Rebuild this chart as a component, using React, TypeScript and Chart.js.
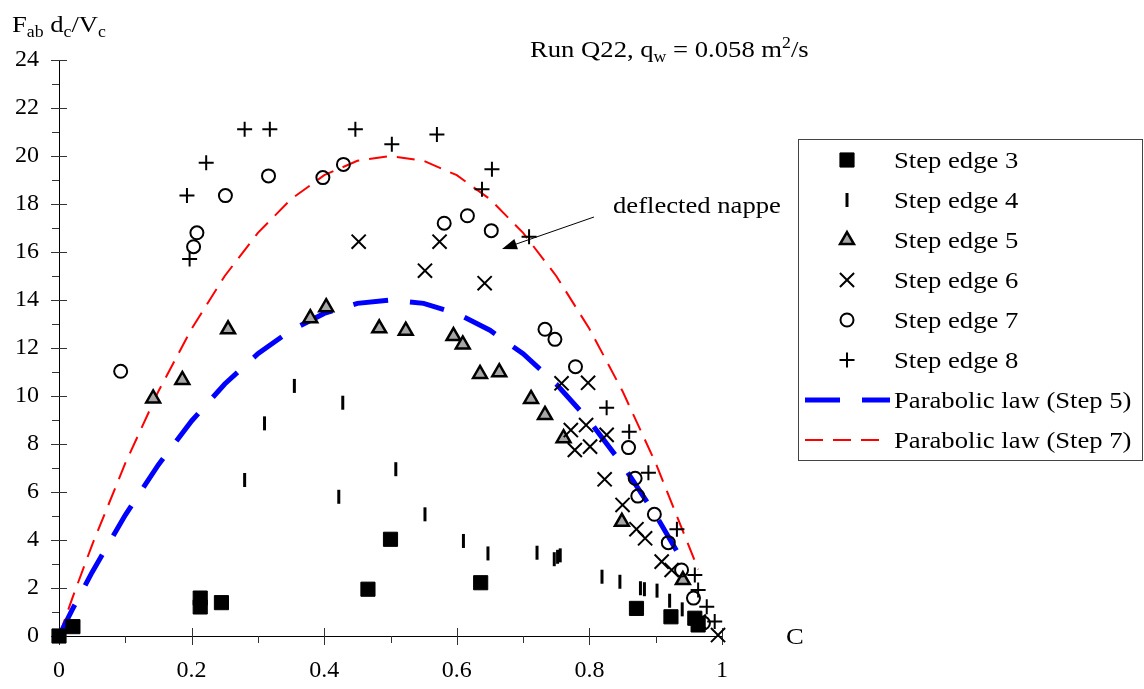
import React, { useEffect, useRef } from "react";
import { Chart, registerables } from "chart.js";
Chart.register(...registerables);

const xTickLabels = ["0", "0.2", "0.4", "0.6", "0.8", "1"];
const xTickValues = [0, 0.2, 0.4, 0.6, 0.8, 1];
const yTickValues = [0, 2, 4, 6, 8, 10, 12, 14, 16, 18, 20, 22, 24];

const seriesNames = [
  "Step edge 3",
  "Step edge 4",
  "Step edge 5",
  "Step edge 6",
  "Step edge 7",
  "Step edge 8",
  "Parabolic law (Step 5)",
  "Parabolic law (Step 7)",
];

const edge3C = [0, 0.021, 0.213, 0.213, 0.245, 0.466, 0.5, 0.636, 0.871, 0.923, 0.959, 0.964];
const edge3F = [0, 0.39, 1.58, 1.21, 1.39, 1.95, 4.03, 2.22, 1.15, 0.8, 0.74, 0.46];

const edge4C = [0.28, 0.31, 0.355, 0.422, 0.428, 0.508, 0.552, 0.61, 0.647, 0.721, 0.747, 0.752, 0.756, 0.819, 0.846, 0.877, 0.883, 0.902, 0.921, 0.94];
const edge4F = [6.5, 8.86, 10.42, 5.8, 9.72, 6.95, 5.07, 3.96, 3.44, 3.47, 3.2, 3.3, 3.36, 2.47, 2.26, 1.99, 1.95, 1.89, 1.47, 1.11];

const edge5C = [0.142, 0.186, 0.255, 0.379, 0.403, 0.483, 0.523, 0.595, 0.609, 0.635, 0.664, 0.712, 0.733, 0.761, 0.849, 0.941];
const edge5F = [9.9, 10.67, 12.78, 13.24, 13.7, 12.82, 12.72, 12.5, 12.15, 10.92, 10.99, 9.88, 9.21, 8.24, 4.76, 2.33];

const edge6C = [0.452, 0.552, 0.574, 0.642, 0.758, 0.798, 0.772, 0.795, 0.778, 0.801, 0.826, 0.823, 0.85, 0.871, 0.884, 0.909, 0.924, 0.965, 0.994];
const edge6F = [16.43, 15.22, 16.43, 14.7, 10.53, 10.55, 8.58, 8.79, 7.75, 7.89, 8.38, 6.53, 5.46, 4.45, 4.07, 3.1, 2.75, 0.6, 0.04];

const edge7C = [0.093, 0.203, 0.208, 0.251, 0.316, 0.398, 0.429, 0.581, 0.616, 0.652, 0.733, 0.748, 0.779, 0.859, 0.869, 0.873, 0.898, 0.919, 0.939, 0.957, 0.972];
const edge7F = [11.03, 16.22, 16.8, 18.35, 19.17, 19.1, 19.65, 17.2, 17.51, 16.89, 12.78, 12.36, 11.22, 7.85, 6.57, 5.83, 5.07, 3.89, 2.75, 1.58, 0.54];

const edge8C = [0.193, 0.197, 0.222, 0.28, 0.318, 0.447, 0.502, 0.57, 0.638, 0.653, 0.709, 0.826, 0.86, 0.889, 0.932, 0.959, 0.964, 0.977, 0.989];
const edge8F = [18.35, 15.71, 19.72, 21.11, 21.11, 21.11, 20.49, 20.9, 18.61, 19.45, 16.64, 9.51, 8.51, 6.8, 4.45, 2.54, 1.92, 1.22, 0.6];

const law5C = [0, 0.02, 0.05, 0.1, 0.15, 0.2, 0.25, 0.3, 0.35, 0.4, 0.45, 0.5, 0.55, 0.6, 0.65, 0.7, 0.75, 0.8, 0.85, 0.9, 0.944];
const law5F = [0, 1.1, 2.66, 5.04, 7.14, 8.96, 10.5, 11.76, 12.74, 13.44, 13.86, 14.0, 13.86, 13.44, 12.74, 11.76, 10.5, 8.96, 7.14, 5.04, 2.96];

const law7C = [0, 0.02, 0.05, 0.1, 0.15, 0.2, 0.25, 0.3, 0.35, 0.4, 0.45, 0.5, 0.55, 0.6, 0.65, 0.7, 0.75, 0.8, 0.85, 0.9, 0.964];
const law7F = [0, 1.57, 3.8, 7.2, 10.2, 12.8, 15.0, 16.8, 18.2, 19.2, 19.8, 20.0, 19.8, 19.2, 18.2, 16.8, 15.0, 12.8, 10.2, 7.2, 2.78];

const titleText = "Run Q22, q";
const annotationText = "deflected nappe";
const xAxisTitle = "C";

const pts = (xs: number[], ys: number[]) => xs.map((x, i) => ({ x, y: ys[i] }));

const FONT = "'Liberation Serif', 'Times New Roman', serif";
const SX = 1.11;

type Mk = { style: string; r: number; rot: number; fill: string; stroke: string; bw: number };

function drawMarker(ctx: CanvasRenderingContext2D, m: Mk, x: number, y: number) {
  ctx.save();
  ctx.fillStyle = m.fill;
  ctx.strokeStyle = m.stroke;
  ctx.lineWidth = m.bw;
  ctx.beginPath();
  const r = m.r;
  if (m.style === "rect") {
    const s = Math.SQRT1_2 * r;
    ctx.rect(x - s, y - s, 2 * s, 2 * s);
    ctx.fill();
    ctx.stroke();
  } else if (m.style === "line") {
    const rad = (m.rot * Math.PI) / 180;
    ctx.moveTo(x - Math.cos(rad) * r, y - Math.sin(rad) * r);
    ctx.lineTo(x + Math.cos(rad) * r, y + Math.sin(rad) * r);
    ctx.stroke();
  } else if (m.style === "triangle") {
    let rad = 0;
    ctx.moveTo(x + Math.sin(rad) * r, y - Math.cos(rad) * r);
    rad += (2 * Math.PI) / 3;
    ctx.lineTo(x + Math.sin(rad) * r, y - Math.cos(rad) * r);
    rad += (2 * Math.PI) / 3;
    ctx.lineTo(x + Math.sin(rad) * r, y - Math.cos(rad) * r);
    ctx.closePath();
    ctx.fill();
    ctx.stroke();
  } else if (m.style === "crossRot") {
    const o = Math.SQRT1_2 * r;
    ctx.moveTo(x - o, y - o);
    ctx.lineTo(x + o, y + o);
    ctx.moveTo(x - o, y + o);
    ctx.lineTo(x + o, y - o);
    ctx.stroke();
  } else if (m.style === "circle") {
    ctx.arc(x, y, r, 0, Math.PI * 2);
    ctx.stroke();
  } else if (m.style === "cross") {
    ctx.moveTo(x - r, y);
    ctx.lineTo(x + r, y);
    ctx.moveTo(x, y - r);
    ctx.lineTo(x, y + r);
    ctx.stroke();
  }
  ctx.restore();
}

const markers: Mk[] = [
  { style: "rect", r: 10, rot: 0, fill: "#000", stroke: "#000", bw: 1 },
  { style: "line", r: 7, rot: 90, fill: "#000", stroke: "#000", bw: 3 },
  { style: "triangle", r: 8, rot: 0, fill: "#a6a6a6", stroke: "#000", bw: 2.5 },
  { style: "crossRot", r: 10, rot: 0, fill: "#000", stroke: "#000", bw: 2 },
  { style: "circle", r: 6.5, rot: 0, fill: "rgba(0,0,0,0)", stroke: "#000", bw: 2 },
  { style: "cross", r: 7.5, rot: 0, fill: "#000", stroke: "#000", bw: 2 },
];

type Piece = { t: string; k: "n" | "sub" | "sup" };

function drawRich(ctx: CanvasRenderingContext2D, pieces: Piece[], x: number, y: number, size: number) {
  let cx = x;
  ctx.save();
  ctx.fillStyle = "#000";
  ctx.textBaseline = "alphabetic";
  ctx.textAlign = "left";
  for (const p of pieces) {
    const fs = p.k === "n" ? size : Math.round(size * 0.65);
    const dy = p.k === "sub" ? size * 0.2 : p.k === "sup" ? -size * 0.38 : 0;
    ctx.font = `${fs}px ${FONT}`;
    ctx.save();
    ctx.translate(cx, y + dy);
    ctx.scale(SX, 1);
    ctx.fillText(p.t, 0, 0);
    ctx.restore();
    cx += ctx.measureText(p.t).width * SX;
  }
  ctx.restore();
}

const decorPlugin = {
  id: "decor",
  beforeDatasetsDraw(chart: any) {
    const ctx: CanvasRenderingContext2D = chart.ctx;
    const xs = chart.scales.x;
    const ys = chart.scales.y;
    const x0 = chart.chartArea.left;
    const y0 = chart.chartArea.bottom;
    ctx.save();
    ctx.strokeStyle = "#333";
    ctx.lineWidth = 1;
    ctx.beginPath();
    yTickValues.forEach((v, i) => {
      const py = Math.round(ys.getPixelForValue(v)) + 0.5;
      ctx.moveTo(x0 - 8, py);
      ctx.lineTo(x0 + 8, py);
      if (i < yTickValues.length - 1) {
        const pm = Math.round(ys.getPixelForValue((v + yTickValues[i + 1]) / 2)) + 0.5;
        ctx.moveTo(x0 - 7, pm);
        ctx.lineTo(x0, pm);
      }
    });
    xTickValues.forEach((v, i) => {
      const px = Math.round(xs.getPixelForValue(v)) + 0.5;
      ctx.moveTo(px, y0 - 8);
      ctx.lineTo(px, y0 + 9);
      if (i < xTickValues.length - 1) {
        const pm = Math.round(xs.getPixelForValue((v + xTickValues[i + 1]) / 2)) + 0.5;
        ctx.moveTo(pm, y0);
        ctx.lineTo(pm, y0 + 7);
      }
    });
    ctx.stroke();
    ctx.restore();
  },
  afterDraw(chart: any) {
    const ctx: CanvasRenderingContext2D = chart.ctx;
    // y-axis title
    drawRich(
      ctx,
      [
        { t: "F", k: "n" },
        { t: "ab", k: "sub" },
        { t: " d", k: "n" },
        { t: "c", k: "sub" },
        { t: "/V", k: "n" },
        { t: "c", k: "sub" },
      ],
      12,
      32,
      24
    );
    // chart title
    drawRich(
      ctx,
      [
        { t: titleText, k: "n" },
        { t: "w", k: "sub" },
        { t: " = 0.058 m", k: "n" },
        { t: "2", k: "sup" },
        { t: "/s", k: "n" },
      ],
      530,
      57,
      24
    );
    // x axis title
    drawRich(ctx, [{ t: xAxisTitle, k: "n" }], 786, 644, 24);
    // annotation
    drawRich(ctx, [{ t: annotationText, k: "n" }], 613, 213, 24);
    const ax1 = 594, ay1 = 217, ax2 = 502, ay2 = 249;
    const ang = Math.atan2(ay2 - ay1, ax2 - ax1);
    ctx.save();
    ctx.strokeStyle = "#000";
    ctx.fillStyle = "#000";
    ctx.lineWidth = 1;
    ctx.beginPath();
    ctx.moveTo(ax1, ay1);
    ctx.lineTo(ax2 - Math.cos(ang) * 10, ay2 - Math.sin(ang) * 10);
    ctx.stroke();
    ctx.beginPath();
    ctx.moveTo(ax2, ay2);
    ctx.lineTo(ax2 - Math.cos(ang) * 15 - Math.sin(ang) * 5.5, ay2 - Math.sin(ang) * 15 + Math.cos(ang) * 5.5);
    ctx.lineTo(ax2 - Math.cos(ang) * 15 + Math.sin(ang) * 5.5, ay2 - Math.sin(ang) * 15 - Math.cos(ang) * 5.5);
    ctx.closePath();
    ctx.fill();
    ctx.restore();
    // legend
    ctx.save();
    ctx.strokeStyle = "#444";
    ctx.lineWidth = 1;
    ctx.strokeRect(798.5, 139.5, 344, 321);
    ctx.restore();
    seriesNames.forEach((name, i) => {
      const cy = 160 + 40 * i;
      if (i < markers.length) {
        drawMarker(ctx, markers[i], 847, cy);
      } else {
        const ds = chart.data.datasets[i];
        ctx.save();
        ctx.strokeStyle = ds.borderColor;
        ctx.lineWidth = ds.borderWidth;
        ctx.setLineDash(ds.borderDash);
        ctx.beginPath();
        ctx.moveTo(805, cy);
        ctx.lineTo(i === 6 ? 890 : 880, cy);
        ctx.stroke();
        ctx.restore();
      }
      drawRich(ctx, [{ t: name, k: "n" }], 894, cy + 8, 24);
    });
  },
};

export default function App() {
  const ref = useRef<HTMLCanvasElement>(null);
  useEffect(() => {
    if (!ref.current) return;
    const markerSets = [
      [edge3C, edge3F],
      [edge4C, edge4F],
      [edge5C, edge5F],
      [edge6C, edge6F],
      [edge7C, edge7F],
      [edge8C, edge8F],
    ];
    const datasets: any[] = markerSets.map(([c, f], i) => ({
      type: "scatter",
      label: seriesNames[i],
      data: pts(c, f),
      pointStyle: markers[i].style,
      rotation: markers[i].rot,
      pointRadius: markers[i].r,
      pointHoverRadius: markers[i].r,
      backgroundColor: markers[i].fill,
      borderColor: markers[i].stroke,
      pointBorderWidth: markers[i].bw,
      borderWidth: markers[i].bw,
      showLine: false,
      clip: false,
      order: 6 - i,
    }));
    datasets.push({
      type: "scatter",
      label: seriesNames[6],
      data: pts(law5C, law5F),
      showLine: true,
      borderColor: "#0000ff",
      borderWidth: 5,
      borderDash: [35, 22],
      pointRadius: 0,
      tension: 0,
      fill: false,
      clip: false,
      order: 20,
    });
    datasets.push({
      type: "scatter",
      label: seriesNames[7],
      data: pts(law7C, law7F),
      showLine: true,
      borderColor: "#ff0000",
      borderWidth: 2,
      borderDash: [18, 10],
      pointRadius: 0,
      tension: 0,
      fill: false,
      clip: false,
      order: 21,
    });
    const chart = new Chart(ref.current, {
      type: "scatter",
      data: { datasets },
      plugins: [decorPlugin as any],
      options: {
        responsive: false,
        maintainAspectRatio: false,
        devicePixelRatio: 1,
        animation: false,
        layout: { padding: { top: 60, right: 422, left: 0, bottom: 0 } },
        plugins: { legend: { display: false }, tooltip: { enabled: false }, title: { display: false } },
        events: [],
        scales: {
          x: {
            type: "linear",
            min: 0,
            max: 1,
            afterFit: (s: any) => {
              s.height = 53;
            },
            afterBuildTicks: (s: any) => {
              s.ticks = xTickValues.map((v) => ({ value: v }));
            },
            grid: { display: false, drawTicks: false },
            border: { display: true, color: "#000", width: 1 },
            ticks: {
              padding: 20,
              color: "#000",
              maxRotation: 0,
              font: { family: FONT, size: 24 },
              callback: (_v: any, i: number) => xTickLabels[i],
            },
          },
          y: {
            type: "linear",
            min: 0,
            max: 24,
            afterFit: (s: any) => {
              s.width = 59;
            },
            afterBuildTicks: (s: any) => {
              s.ticks = yTickValues.map((v) => ({ value: v }));
            },
            grid: { display: false, drawTicks: false },
            border: { display: true, color: "#000", width: 1 },
            ticks: {
              padding: 20,
              color: "#000",
              font: { family: FONT, size: 24 },
              callback: (v: any) => String(v),
            },
          },
        },
      } as any,
    });
    return () => chart.destroy();
  }, []);
  return (
    <div style={{ position: "fixed", left: 0, top: 0, width: 1144, height: 689, background: "#fff" }}>
      <canvas ref={ref} width={1144} height={689} style={{ display: "block" }} />
    </div>
  );
}
